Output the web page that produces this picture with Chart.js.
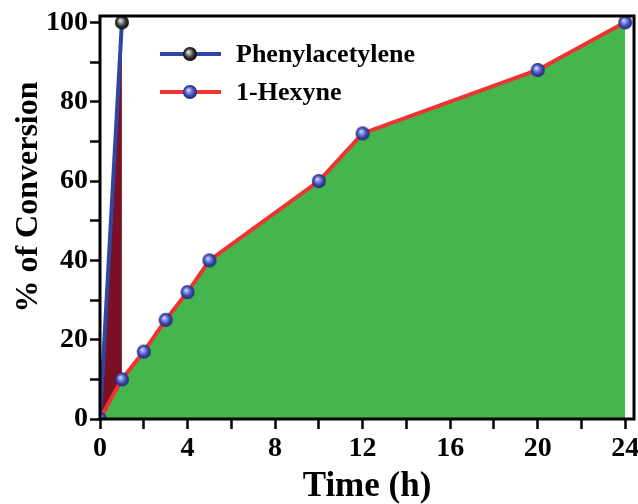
<!DOCTYPE html>
<html lang="en">
<head>
  <meta charset="UTF-8">
  <title>% of Conversion vs Time</title>
  <script src="https://cdn.jsdelivr.net/npm/chart.js"></script>
  <style>
    html, body { margin: 0; padding: 0; background: #fff; }
    #wrap { width: 638px; height: 504px; }
  </style>
</head>
<body>
  <div id="wrap"><canvas id="convChart" width="638" height="504"></canvas></div>

  <script>
    // data
    const phenylTime = [0, 1];
    const phenylConv = [0, 100];
    const hexyneTime = [0, 1, 2, 3, 4, 5, 10, 12, 20, 24];
    const hexyneConv = [0, 10, 17, 25, 32, 40, 60, 72, 88, 100];
    const xTicks = [0, 2, 4, 6, 8, 10, 12, 14, 16, 18, 20, 22, 24];
    const yTicks = [0, 10, 20, 30, 40, 50, 60, 70, 80, 90, 100];
    const yTitle = "% of Conversion";

    const FONT = "'Liberation Serif', 'DejaVu Serif', serif";

    // shiny ball markers
    function makeSphere(light, base, dark, r) {
      const c = document.createElement("canvas");
      c.width = c.height = r * 2 + 2;
      const g = c.getContext("2d");
      const cx = r + 1, cy = r + 1;
      const grad = g.createRadialGradient(cx - r * 0.25, cy - r * 0.3, 0, cx, cy, r * 1.05);
      grad.addColorStop(0, "#ffffff");
      grad.addColorStop(0.18, light);
      grad.addColorStop(0.6, base);
      grad.addColorStop(1, dark);
      g.fillStyle = grad;
      g.beginPath();
      g.arc(cx, cy, r, 0, Math.PI * 2);
      g.fill();
      return c;
    }
    const blackBall = makeSphere("#bdbdbd", "#3a3a3a", "#000000", 7);
    const blueBall = makeSphere("#a8b0f0", "#4450b8", "#1a1f6e", 7);

    const toXY = (xs, ys) => xs.map((x, i) => ({ x: x, y: ys[i] }));
    const noPad = () => ({ left: 0, top: 0, right: 0, bottom: 0 });

    const framePlugin = {
      id: "frame",
      afterDatasetsDraw(chart) {
        const { ctx, chartArea: a } = chart;
        ctx.save();
        ctx.strokeStyle = "#000";
        ctx.lineWidth = 3;
        ctx.strokeRect(a.left, a.top, a.right - a.left, a.bottom - a.top);
        ctx.restore();
      }
    };

    // y title placed a bit above the axis middle, like the figure
    const yTitlePlugin = {
      id: "yTitle",
      afterDraw(chart) {
        const ctx = chart.ctx;
        ctx.save();
        ctx.translate(29, 197);
        ctx.rotate(-Math.PI / 2);
        ctx.fillStyle = "#000";
        ctx.font = "bold 32px " + FONT;
        ctx.textAlign = "center";
        ctx.textBaseline = "middle";
        ctx.fillText(yTitle, 0, 0);
        ctx.restore();
      }
    };

    // legend drawn inside the plot, line + ball + label
    const legendPlugin = {
      id: "insideLegend",
      afterDraw(chart) {
        const ctx = chart.ctx;
        const balls = [blackBall, blueBall];
        chart.data.datasets.forEach((ds, i) => {
          const y = 54 + i * 38;
          ctx.save();
          ctx.strokeStyle = ds.borderColor;
          ctx.lineWidth = 4;
          ctx.beginPath();
          ctx.moveTo(160, y);
          ctx.lineTo(221, y);
          ctx.stroke();
          ctx.drawImage(balls[i], 190 - balls[i].width / 2, y - balls[i].height / 2);
          ctx.fillStyle = "#000";
          ctx.font = "bold 26px " + FONT;
          ctx.textBaseline = "middle";
          ctx.fillText(ds.label, 236, y + 1);
          ctx.restore();
        });
      }
    };

    new Chart(document.getElementById("convChart").getContext("2d"), {
      type: "line",
      data: {
        datasets: [{
          label: "Phenylacetylene",
          data: toXY(phenylTime, phenylConv),
          borderColor: "#2f47a3",
          backgroundColor: "#7a1024",
          borderWidth: 4,
          fill: "origin",
          pointStyle: blackBall,
          pointRadius: 1,
          pointBorderWidth: 0,
          order: 2
        }, {
          label: "1-Hexyne",
          data: toXY(hexyneTime, hexyneConv),
          borderColor: "#ee3333",
          backgroundColor: "#45b54d",
          borderWidth: 4,
          fill: "origin",
          pointStyle: blueBall,
          pointRadius: 1,
          pointBorderWidth: 0,
          order: 1
        }]
      },
      options: {
        responsive: false,
        animation: false,
        layout: { padding: { top: 16, right: 4, left: 0, bottom: 0 } },
        plugins: {
          legend: { display: false },
          tooltip: { enabled: false }
        },
        scales: {
          x: {
            type: "linear",
            min: 0,
            max: 24.4,
            afterBuildTicks: s => { s.ticks = xTicks.map(v => ({ value: v })); },
            afterFit: s => { s.height = 85; s.paddingLeft = 0; s.paddingRight = 0; s.getPadding = noPad; },
            border: { display: false },
            grid: { drawOnChartArea: false, tickLength: 10, tickWidth: 2.5, tickColor: "#000" },
            ticks: {
              autoSkip: false,
              maxRotation: 0,
              padding: 3,
              color: "#000",
              font: { family: FONT, size: 28, weight: "bold" },
              callback: v => (v % 4 === 0 ? String(v) : "")
            },
            title: {
              display: true,
              text: "Time (h)",
              color: "#000",
              padding: { top: 0, bottom: 0 },
              font: { family: FONT, size: 35, weight: "bold", lineHeight: 1 }
            }
          },
          y: {
            min: 0,
            max: 101.6,
            afterBuildTicks: s => { s.ticks = yTicks.map(v => ({ value: v })); },
            afterFit: s => { s.width = 100; s.paddingTop = 0; s.paddingBottom = 0; s.getPadding = noPad; },
            border: { display: false },
            grid: { drawOnChartArea: false, tickLength: 10, tickWidth: 2.5, tickColor: "#000" },
            ticks: {
              autoSkip: false,
              padding: 2,
              color: "#000",
              font: { family: FONT, size: 28, weight: "bold" },
              callback: v => (v % 20 === 0 ? String(v) : "")
            },
            title: { display: false }
          }
        }
      },
      plugins: [framePlugin, legendPlugin, yTitlePlugin]
    });
  </script>
</body>
</html>
